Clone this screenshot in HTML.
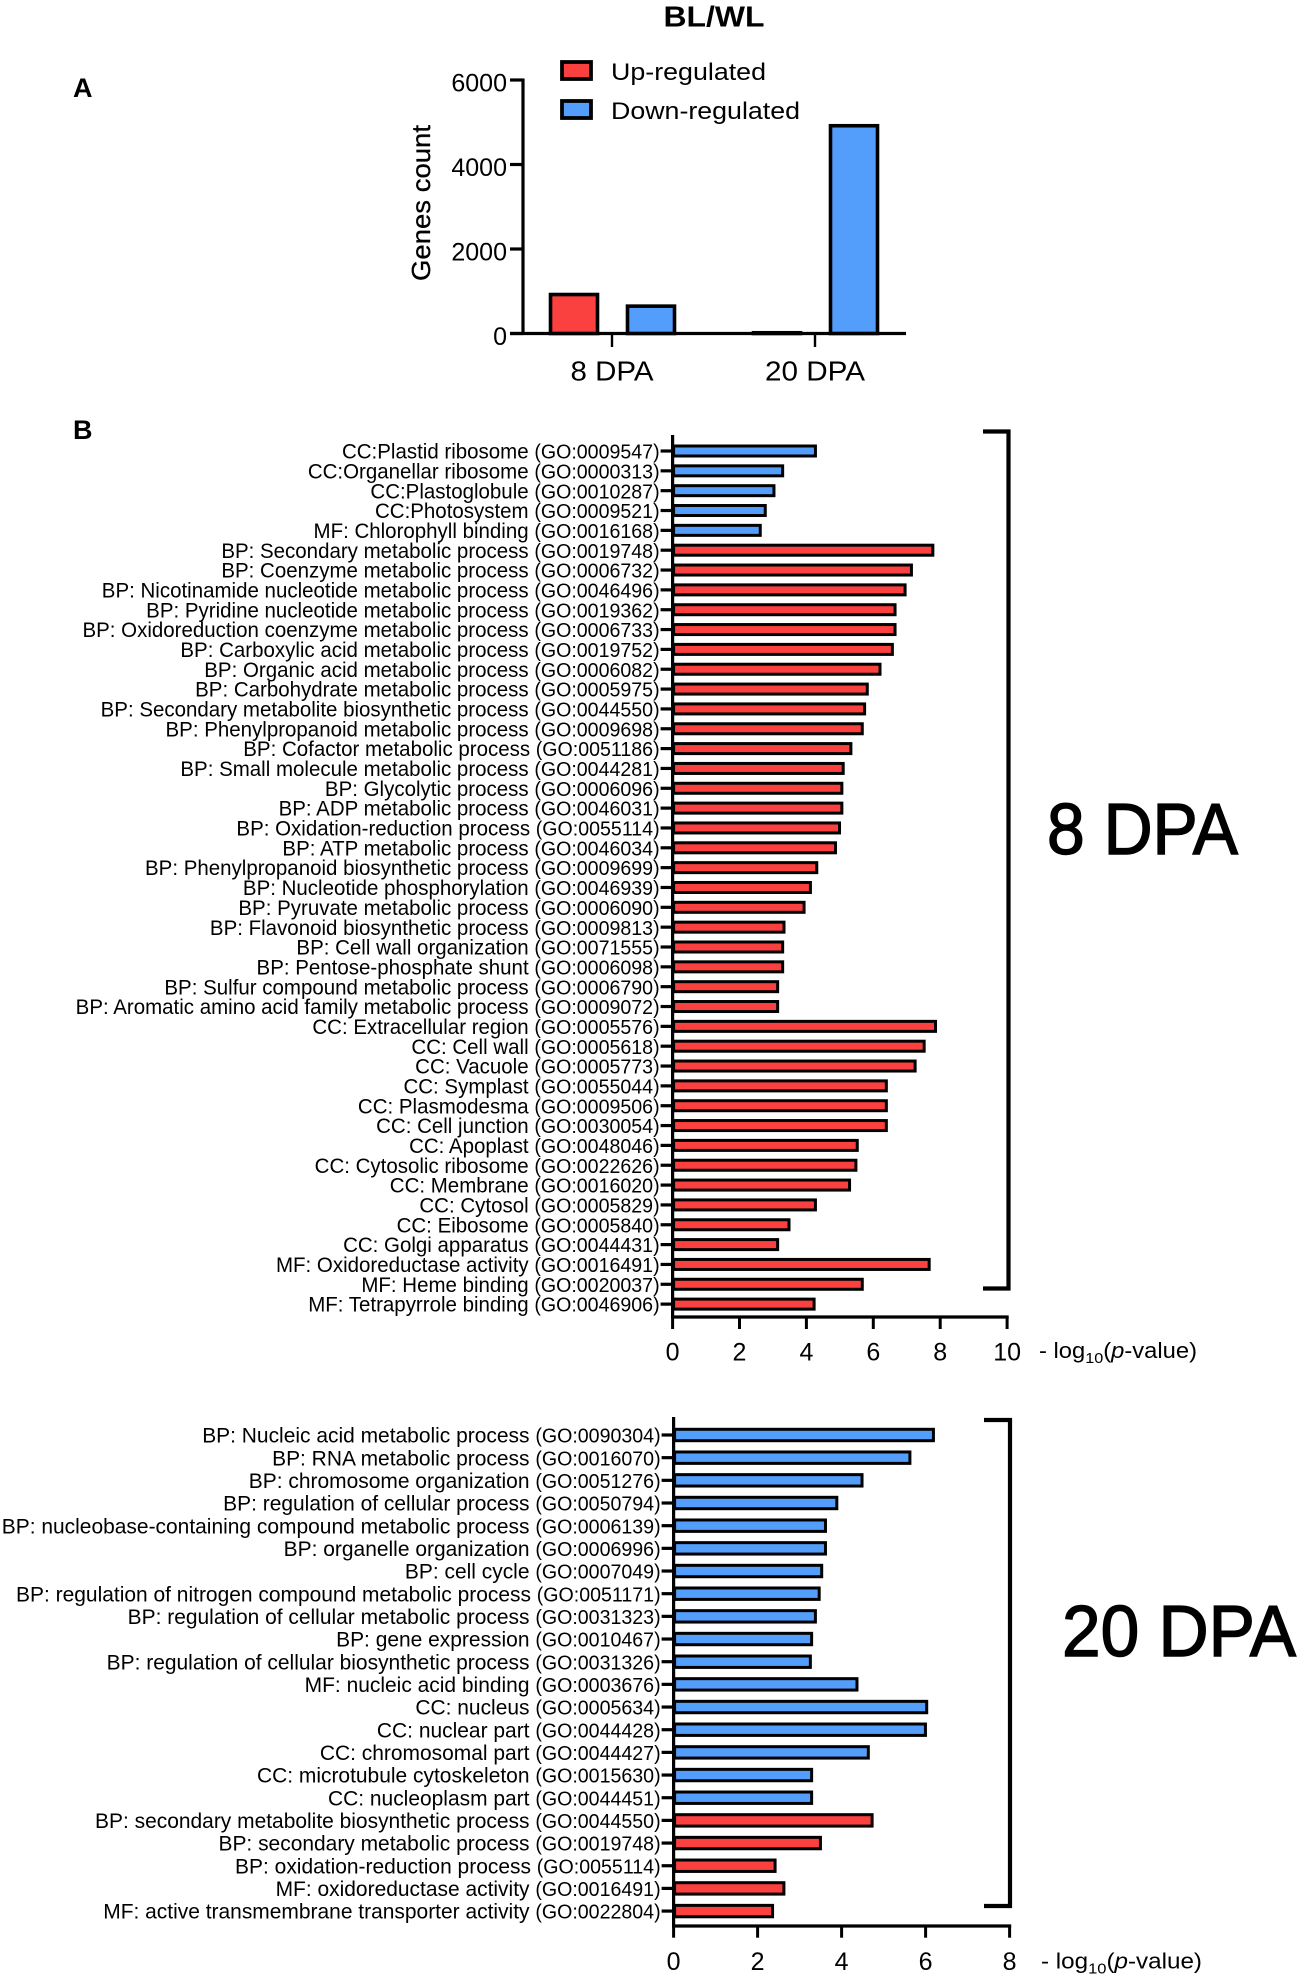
<!DOCTYPE html>
<html lang="en">
<head>
<meta charset="utf-8">
<title>BL/WL differential expression and GO enrichment</title>
<style>
  html, body { margin: 0; padding: 0; background: #fff; }
  svg { display: block; font-family: "Liberation Sans", "DejaVu Sans", sans-serif; fill: #000; }
</style>
</head>
<body>
<svg id="figure" xmlns="http://www.w3.org/2000/svg" width="1299" height="1978" viewBox="0 0 1299 1978">
  <rect x="0" y="0" width="1299" height="1978" fill="#fff"/>
  <text x="714" y="26.5" text-anchor="middle" font-size="29" font-weight="bold" textLength="101" lengthAdjust="spacingAndGlyphs">BL/WL</text>
  <text x="73" y="97" font-size="27" font-weight="bold">A</text>
  <text x="73" y="439" font-size="27" font-weight="bold">B</text>
  <g>
    <rect x="562" y="62" width="29" height="17" fill="#FB4040" stroke="#000" stroke-width="3.8"/>
    <text x="611" y="80" font-size="24" textLength="155" lengthAdjust="spacingAndGlyphs">Up-regulated</text>
    <rect x="562" y="101" width="29" height="17" fill="#549EFB" stroke="#000" stroke-width="3.8"/>
    <text x="611" y="119" font-size="24" textLength="189" lengthAdjust="spacingAndGlyphs">Down-regulated</text>
  </g>
  <text transform="translate(430,203) rotate(-90)" text-anchor="middle" font-size="26" stroke="#000" stroke-width="0.3" textLength="156" lengthAdjust="spacingAndGlyphs">Genes count</text>
  <g id="chart-a"></g>
  <g id="chart-b1"></g>
  <g id="chart-b2"></g>
  <path d="M983 431.5 H1008.5 V1288.5 H983" fill="none" stroke="#000" stroke-width="4.2"/>
  <path d="M984 1420 H1010 V1906 H984" fill="none" stroke="#000" stroke-width="4.2"/>
  <text x="1047" y="854" font-size="72" stroke="#000" stroke-width="1.4" textLength="191" lengthAdjust="spacingAndGlyphs">8 DPA</text>
  <text x="1062" y="1656" font-size="72" stroke="#000" stroke-width="1.4" textLength="234" lengthAdjust="spacingAndGlyphs">20 DPA</text>
  <text x="1039" y="1358" font-size="22" textLength="158" lengthAdjust="spacingAndGlyphs">- log<tspan font-size="15" dy="5">10</tspan><tspan dy="-5">(</tspan><tspan font-style="italic">p</tspan>-value)</text>
  <text x="1041" y="1968.5" font-size="22" textLength="161" lengthAdjust="spacingAndGlyphs">- log<tspan font-size="15" dy="5">10</tspan><tspan dy="-5">(</tspan><tspan font-style="italic">p</tspan>-value)</text>
</svg>
<script>
// ---- Panel A data ----
const countGroups = ["8 DPA", "20 DPA"];
const upRegulated = [965, 60];
const downRegulated = [690, 4960];
const countTicks = [0, 2000, 4000, 6000];

// ---- Panel B 8 DPA data ----
const categories8 = [
  "CC:Plastid ribosome (GO:0009547)",
  "CC:Organellar ribosome (GO:0000313)",
  "CC:Plastoglobule (GO:0010287)",
  "CC:Photosystem (GO:0009521)",
  "MF: Chlorophyll binding (GO:0016168)",
  "BP: Secondary metabolic process (GO:0019748)",
  "BP: Coenzyme metabolic process (GO:0006732)",
  "BP: Nicotinamide nucleotide metabolic process (GO:0046496)",
  "BP: Pyridine nucleotide metabolic process (GO:0019362)",
  "BP: Oxidoreduction coenzyme metabolic process (GO:0006733)",
  "BP: Carboxylic acid metabolic process (GO:0019752)",
  "BP: Organic acid metabolic process (GO:0006082)",
  "BP: Carbohydrate metabolic process (GO:0005975)",
  "BP: Secondary metabolite biosynthetic process (GO:0044550)",
  "BP: Phenylpropanoid metabolic process (GO:0009698)",
  "BP: Cofactor metabolic process (GO:0051186)",
  "BP: Small molecule metabolic process (GO:0044281)",
  "BP: Glycolytic process (GO:0006096)",
  "BP: ADP metabolic process (GO:0046031)",
  "BP: Oxidation-reduction process (GO:0055114)",
  "BP: ATP metabolic process (GO:0046034)",
  "BP: Phenylpropanoid biosynthetic process (GO:0009699)",
  "BP: Nucleotide phosphorylation (GO:0046939)",
  "BP: Pyruvate metabolic process (GO:0006090)",
  "BP: Flavonoid biosynthetic process (GO:0009813)",
  "BP: Cell wall organization (GO:0071555)",
  "BP: Pentose-phosphate shunt (GO:0006098)",
  "BP: Sulfur compound metabolic process (GO:0006790)",
  "BP: Aromatic amino acid family metabolic process (GO:0009072)",
  "CC: Extracellular region (GO:0005576)",
  "CC: Cell wall (GO:0005618)",
  "CC: Vacuole (GO:0005773)",
  "CC: Symplast (GO:0055044)",
  "CC: Plasmodesma (GO:0009506)",
  "CC: Cell junction (GO:0030054)",
  "CC: Apoplast (GO:0048046)",
  "CC: Cytosolic ribosome (GO:0022626)",
  "CC: Membrane (GO:0016020)",
  "CC: Cytosol (GO:0005829)",
  "CC: Eibosome (GO:0005840)",
  "CC: Golgi apparatus (GO:0044431)",
  "MF: Oxidoreductase activity (GO:0016491)",
  "MF: Heme binding (GO:0020037)",
  "MF: Tetrapyrrole binding (GO:0046906)"
];
const values8 = [4.3, 3.32, 3.06, 2.8, 2.65, 7.81, 7.17, 6.98, 6.68, 6.68, 6.6, 6.23, 5.85, 5.77, 5.7, 5.36, 5.13, 5.09, 5.09, 5.02, 4.9, 4.34, 4.15, 3.96, 3.36, 3.32, 3.32, 3.17, 3.17, 7.89, 7.55, 7.28, 6.42, 6.42, 6.42, 5.55, 5.51, 5.32, 4.3, 3.51, 3.17, 7.7, 5.7, 4.26];
const regulation8 = ["down", "down", "down", "down", "down", "up", "up", "up", "up", "up", "up", "up", "up", "up", "up", "up", "up", "up", "up", "up", "up", "up", "up", "up", "up", "up", "up", "up", "up", "up", "up", "up", "up", "up", "up", "up", "up", "up", "up", "up", "up", "up", "up", "up"];
const ticks8 = [0, 2, 4, 6, 8, 10];

// ---- Panel B 20 DPA data ----
const categories20 = [
  "BP: Nucleic acid metabolic process (GO:0090304)",
  "BP: RNA metabolic process (GO:0016070)",
  "BP: chromosome organization (GO:0051276)",
  "BP: regulation of cellular process (GO:0050794)",
  "BP: nucleobase-containing compound metabolic process (GO:0006139)",
  "BP: organelle organization (GO:0006996)",
  "BP: cell cycle (GO:0007049)",
  "BP: regulation of nitrogen compound metabolic process (GO:0051171)",
  "BP: regulation of cellular metabolic process (GO:0031323)",
  "BP: gene expression (GO:0010467)",
  "BP: regulation of cellular biosynthetic process (GO:0031326)",
  "MF: nucleic acid binding (GO:0003676)",
  "CC: nucleus (GO:0005634)",
  "CC: nuclear part (GO:0044428)",
  "CC: chromosomal part (GO:0044427)",
  "CC: microtubule cytoskeleton (GO:0015630)",
  "CC: nucleoplasm part (GO:0044451)",
  "BP: secondary metabolite biosynthetic process (GO:0044550)",
  "BP: secondary metabolic process (GO:0019748)",
  "BP: oxidation-reduction process (GO:0055114)",
  "MF: oxidoreductase activity (GO:0016491)",
  "MF: active transmembrane transporter activity (GO:0022804)"
];
const values20 = [6.21, 5.65, 4.51, 3.91, 3.64, 3.64, 3.55, 3.49, 3.4, 3.31, 3.28, 4.39, 6.05, 6.02, 4.66, 3.31, 3.31, 4.75, 3.52, 2.44, 2.65, 2.38];
const regulation20 = ["down", "down", "down", "down", "down", "down", "down", "down", "down", "down", "down", "down", "down", "down", "down", "down", "down", "up", "up", "up", "up", "up"];
const ticks20 = [0, 2, 4, 6, 8];

const NS = 'http://www.w3.org/2000/svg';
const RED = '#FB4040';
const BLUE = '#549EFB';

function make(tag, parent, attrs, text) {
  const node = document.createElementNS(NS, tag);
  for (const key in attrs) node.setAttribute(key, attrs[key]);
  if (text !== undefined) node.textContent = text;
  parent.appendChild(node);
  return node;
}

// ---- Panel A ----
(function () {
  const root = document.getElementById('chart-a');
  const y = v => 333.5 - v * 253.5 / 6000;
  const groupX = i => 612 + i * 203;
  const barW = 47;
  const groupLabelWidths = [83, 100];

  let el = make('line', root, { x1: 523, x2: 523, y1: y(6000) - 1.5, y2: y(0) + 1.5, stroke: '#000', 'stroke-width': 3.2 });
  
  
  el = make('line', root, { x1: 510, x2: 906, y1: y(0), y2: y(0), stroke: '#000', 'stroke-width': 3.2 });
  
  

  countTicks.forEach(t => {
    let n = make('line', root, { x1: 510, x2: 523, y1: y(t), y2: y(t), stroke: '#000', 'stroke-width': 3.2 });
    
    
    n = make('text', root, { x: 507, y: y(t) + 11.5, 'text-anchor': 'end', 'font-size': 25 }, String(t));
    
    
  });

  countGroups.forEach((g, i) => {
    let n = make('line', root, { x1: groupX(i), x2: groupX(i), y1: y(0), y2: 347, stroke: '#000', 'stroke-width': 2.4 });
    
    
    n = make('text', root, { x: groupX(i), y: 380.5, 'text-anchor': 'middle', 'font-size': 28, textLength: groupLabelWidths[i], lengthAdjust: 'spacingAndGlyphs' }, g);
    
    

    n = make('rect', root, { x: groupX(i) - 38 - barW / 2, y: y(upRegulated[i]) + 1.8, width: barW, height: Math.max(0, y(0) - y(upRegulated[i]) - 1.8), fill: RED, stroke: '#000', 'stroke-width': 3.6 });
    
    
    n = make('rect', root, { x: groupX(i) + 39 - barW / 2, y: y(downRegulated[i]) + 1.8, width: barW, height: Math.max(0, y(0) - y(downRegulated[i]) - 1.8), fill: BLUE, stroke: '#000', 'stroke-width': 3.6 });
    
    
  });
})();

// ---- Panel B ----
function drawGoChart(rootId, categories, values, regulation, ticks, cfg) {
  const root = document.getElementById(rootId);
  const x = v => cfg.x0 + v * cfg.unit;
  const y = i => cfg.yFirst + i * cfg.step;
  const xMax = ticks[ticks.length - 1];

  let el = make('line', root, { x1: cfg.x0, x2: cfg.x0, y1: cfg.yTop, y2: cfg.axisY + 1.5, stroke: '#000', 'stroke-width': 3.2 });
  
  
  el = make('line', root, { x1: cfg.x0 - 1.6, x2: x(xMax) + 1.6, y1: cfg.axisY, y2: cfg.axisY, stroke: '#000', 'stroke-width': 3.2 });
  
  

  ticks.forEach(t => {
    let n = make('line', root, { x1: x(t), x2: x(t), y1: cfg.axisY, y2: cfg.tickBottom, stroke: '#000', 'stroke-width': 3 });
    
    
    n = make('text', root, { x: x(t), y: cfg.tickLabelY, 'text-anchor': 'middle', 'font-size': 25 }, String(t));
    
    
  });

  categories.forEach((c, i) => {
    let n = make('line', root, { x1: cfg.x0 - 12, x2: cfg.x0, y1: y(i), y2: y(i), stroke: '#000', 'stroke-width': 3.2 });
    
    
    const splitAt = c.indexOf('(GO:');
    n = make('text', root, { transform: 'translate(' + (cfg.x0 - 13) + ',' + (y(i) + 7.6) + ') scale(' + cfg.textScale + ',1)', 'text-anchor': 'end', 'font-size': cfg.fontSize });
    
    
    make('tspan', n, { 'font-size': cfg.nameFontSize }, c.slice(0, splitAt));
    make('tspan', n, {}, c.slice(splitAt));
    const h = cfg.barH;
    n = make('rect', root, { x: cfg.x0 + 1, y: y(i) - h / 2, width: x(values[i]) - cfg.x0 - 2, height: h, fill: regulation[i] === 'up' ? RED : BLUE, stroke: '#000', 'stroke-width': cfg.barStroke });
    
    
  });
}

drawGoChart('chart-b1', categories8, values8, regulation8, ticks8, {
  x0: 672.6, unit: 33.45, yFirst: 451, step: 19.84, yTop: 435, axisY: 1317,
  tickBottom: 1329, tickLabelY: 1360.5, fontSize: 20, nameFontSize: 20.9, textScale: 0.98, barH: 10, barStroke: 3
});
drawGoChart('chart-b2', categories20, values20, regulation20, ticks20, {
  x0: 673.6, unit: 42, yFirst: 1435, step: 22.67, yTop: 1417, axisY: 1926,
  tickBottom: 1937.7, tickLabelY: 1970, fontSize: 20, nameFontSize: 21.4, textScale: 0.98, barH: 11.4, barStroke: 3
});
</script>
</body>
</html>
